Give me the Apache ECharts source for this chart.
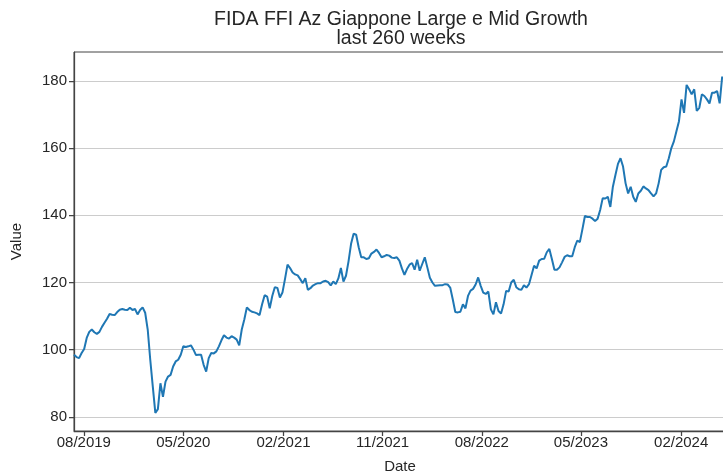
<!DOCTYPE html>
<html>
<head>
<meta charset="utf-8">
<script src="https://cdn.jsdelivr.net/npm/echarts@6.0.0/dist/echarts.min.js"></script>
<style>
  html, body { margin: 0; padding: 0; background: #fff; }
  #chart { width: 723px; height: 474px; }
</style>
</head>
<body>
<div id="chart"></div>
<script>
// text
const titleText = 'FIDA FFI Az Giappone Large e Mid Growth';
const subtitleText = 'last 260 weeks';
const xName = 'Date';
const yName = 'Value';

// first weekly observation (UTC), one point per week after that
const startDay = [2019, 6, 5];

// weekly values
const values = [
  98.5, 97.8, 97.5, 99, 100.2, 103.5, 105.3, 106, 105.2, 104.7,
  105.3, 106.8, 108, 109.2, 110.6, 110.4, 110.3, 111.2, 111.9, 112.1,
  111.9, 111.8, 112.5, 111.8, 112.1, 110.5, 111.8, 112.6, 111, 106,
  97, 89, 81.2, 82.3, 90, 86, 90.5, 92, 92.5, 95,
  96.5, 97, 98.5, 101, 100.8, 101, 101.3, 100, 98.4, 98.5,
  98.5, 95.5, 93.5, 97.5, 99, 98.9, 99.5, 101, 102.8, 104.3,
  103.6, 103.3, 104, 103.6, 103, 101.3, 106, 109, 112.6, 111.8,
  111.3, 111.1, 110.8, 110.3, 113.5, 116.2, 115.8, 112.3, 116, 118.6,
  118.4, 115.5, 117, 121, 125.3, 124.3, 123, 122.4, 122.1, 121,
  119.8, 121.3, 117.8, 118.3, 119.1, 119.5, 119.8, 119.8, 120.3, 120.5,
  120.1, 119.1, 120.3, 119.5, 121.2, 124.3, 120.3, 122, 126.3, 131.5,
  134.5, 134.2, 130.5, 127.5, 127.5, 127, 127.2, 128.6, 129.1, 129.8,
  128.8, 127.5, 127.8, 128.2, 128, 127.4, 127.3, 127.5, 126.5, 124.2,
  122.3, 124, 125.3, 125.8, 123.8, 126.8, 123.5, 125.5, 127.5, 124.5,
  121.4, 120, 119, 119.1, 119.2, 119.2, 119.5, 119.4, 118.5, 115,
  111.2, 111.1, 111.3, 113.5, 112.3, 116, 117.6, 118.1, 119.4, 121.5,
  119, 117, 116.6, 117.3, 112, 110.5, 114.1, 111.5, 110.8, 113.5,
  117.5, 117.3, 120, 120.8, 118.6, 118, 117.8, 119.2, 118.5, 119.5,
  122.2, 125, 124.2, 126.5, 127, 127.1, 129, 130, 127, 123.8,
  123.8, 124.5, 126, 127.6, 128.1, 127.8, 127.8, 130.5, 132.5, 132,
  135.8, 139.8, 139.5, 139.5, 139, 138.3, 139, 141.6, 145.1, 145,
  145.5, 142.5, 148.5, 152, 155.3, 157, 154.5, 149.5, 146.5, 148.5,
  145.5, 144, 146.5, 147.3, 148.6, 148, 147.5, 146.5, 145.6, 146.5,
  149.5, 153.5, 154.3, 154.5, 157, 160, 162, 165, 168, 174.5,
  170.5, 178.8, 177.5, 176, 177.5, 171.1, 172, 176, 175.5, 174.5,
  173.3, 176.5, 176.5, 177, 173.3, 181.3
];

// tick labels
const xTickMonths = [[2019, 7], [2020, 4], [2021, 1], [2021, 10], [2022, 7], [2023, 4], [2024, 1]];
const yTicks = [80, 100, 120, 140, 160, 180];

const DAY = 864e5;
const t0 = Date.UTC(startDay[0], startDay[1], startDay[2]);
const lineData = values.map((v, i) => [t0 + i * 7 * DAY, v]);
const xTicks = xTickMonths.map(m => Date.UTC(m[0], m[1], 1));

const font = 'Liberation Sans';
const ink = '#262626';
const spine = '#444444';

function monthLabel(v) {
  const d = new Date(v);
  const m = d.getUTCMonth() + 1;
  return (m < 10 ? '0' : '') + m + '/' + d.getUTCFullYear();
}

const chart = echarts.init(document.getElementById('chart'), null, { renderer: 'canvas' });

chart.setOption({
  animation: false,
  backgroundColor: '#ffffff',
  textStyle: { fontFamily: font },
  graphic: [
    {
      type: 'text', x: 401, y: 19.5,
      style: { text: titleText, align: 'center', verticalAlign: 'middle', fontSize: 19.5, fontFamily: font, fill: ink }
    },
    {
      type: 'text', x: 401, y: 38.5,
      style: { text: subtitleText, align: 'center', verticalAlign: 'middle', fontSize: 19.5, fontFamily: font, fill: ink }
    }
  ],
  grid: {
    left: 74, right: -3, top: 52, bottom: 43,
    outerBoundsMode: 'none',
    containLabel: false,
    show: true, borderColor: spine, borderWidth: 1
  },
  xAxis: {
    type: 'value',
    min: t0,
    max: t0 + 1795.5 * DAY,
    scale: true,
    name: xName,
    nameLocation: 'middle',
    nameGap: 28,
    nameTextStyle: { fontSize: 15, color: ink, fontFamily: font },
    axisLine: { show: true, onZero: false, lineStyle: { color: spine, width: 1.25 } },
    axisTick: { show: true, customValues: xTicks, length: 5, lineStyle: { color: spine, width: 1.25 } },
    axisLabel: { customValues: xTicks, formatter: monthLabel, fontSize: 15, color: ink, margin: 4, fontFamily: font },
    splitLine: { show: false }
  },
  yAxis: {
    type: 'value',
    min: 75.8,
    max: 188.6,
    name: yName,
    nameLocation: 'middle',
    nameGap: 50,
    nameRotate: 90,
    nameTextStyle: { fontSize: 15, color: ink, fontFamily: font },
    axisLine: { show: true, onZero: false, lineStyle: { color: spine, width: 1.25 } },
    axisTick: { show: true, customValues: yTicks, length: 5, lineStyle: { color: spine, width: 1.25 } },
    axisLabel: { customValues: yTicks, fontSize: 15, color: ink, margin: 7, fontFamily: font },
    splitLine: { show: true, lineStyle: { color: '#cccccc', width: 1 } }
  },
  series: [{
    type: 'line',
    data: lineData,
    showSymbol: false,
    lineStyle: { color: '#1f77b4', width: 2 },
    itemStyle: { color: '#1f77b4' },
    clip: true
  }]
});
</script>
</body>
</html>
